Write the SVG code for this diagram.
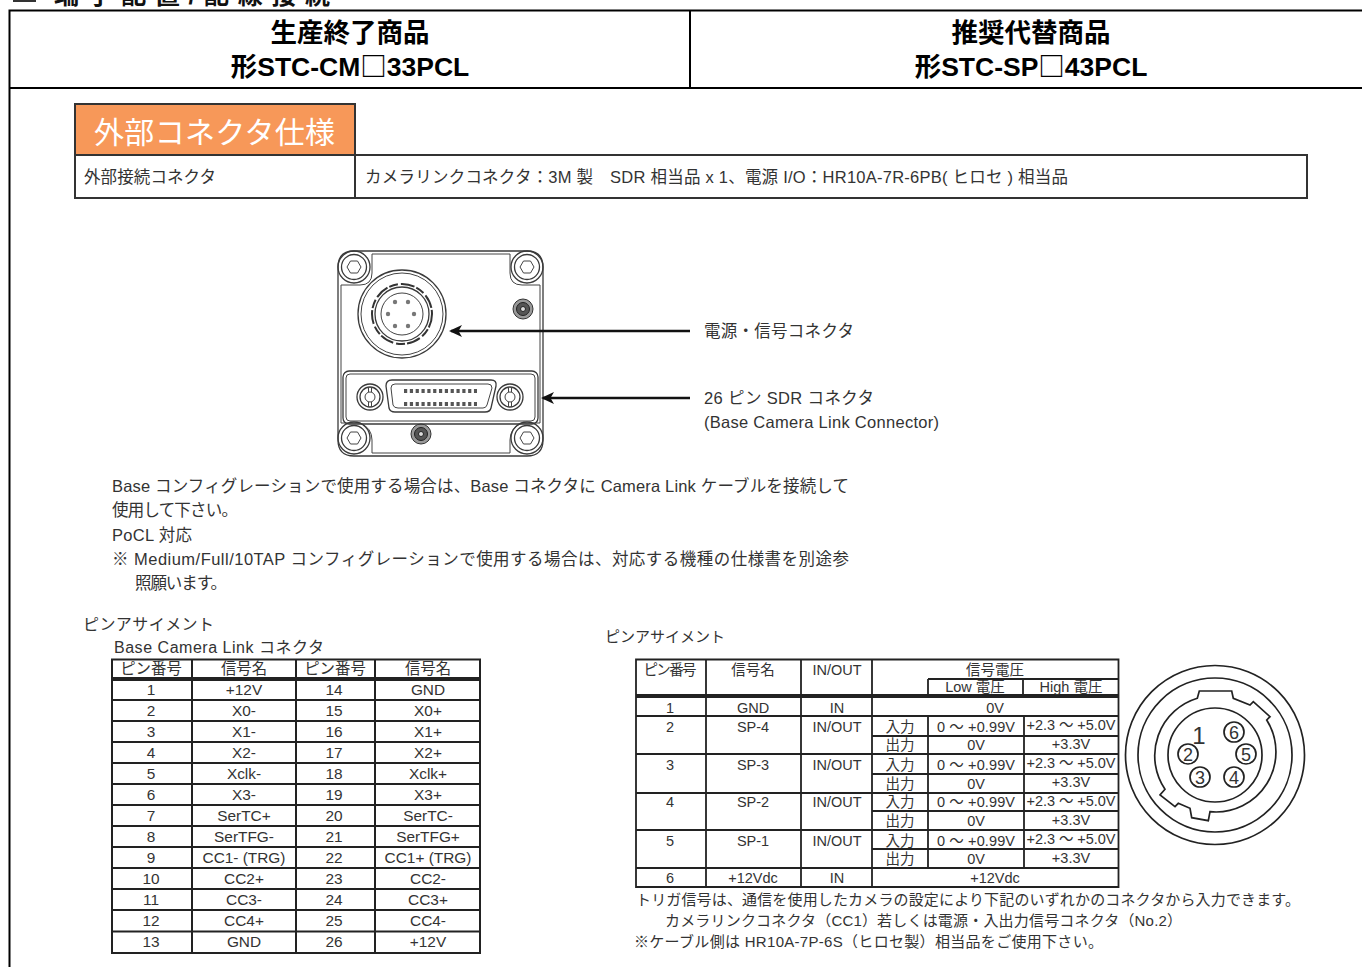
<svg xmlns="http://www.w3.org/2000/svg" width="1362" height="967" viewBox="0 0 1362 967">
<style>
text{font-family:"Liberation Sans","Noto Sans CJK JP",sans-serif;fill:#333}
.h{font-weight:700;font-size:26.500px;fill:#000;text-anchor:middle}
.sq{font-family:"Noto Sans CJK JP",sans-serif;font-weight:700}
.b{font-size:16.5px}
.t{font-size:15.400px;text-anchor:middle}
.r{font-size:14.500px;text-anchor:middle}
.n{font-size:15px}
.g{fill:none;stroke:#222;stroke-width:2}
.c{fill:none;stroke:#3a3a3a;stroke-width:1.300}
.k{fill:none;stroke:#222;stroke-width:1.700}
.f{fill:none;stroke:#444;stroke-width:1}
.p{fill:#777;stroke:none}
.ar{fill:none;stroke:#111;stroke-width:2.600}
</style>
<defs>
<marker id="ah" markerUnits="userSpaceOnUse" markerWidth="15" markerHeight="14" refX="12" refY="7" orient="auto">
<path d="M14 7L1 1L4.500 7L1 13Z" fill="#111"/>
</marker>
<g id="screw"><circle r="16" class="c"/><circle r="12.500" class="c"/><path d="M-7 0L-3.500-6H3.500L7 0L3.500 6H-3.500Z" class="f"/></g>
<g id="sm"><circle r="10" fill="#999" stroke="#333"/><circle r="6.500" fill="#555" stroke="#222"/><circle r="2.500" fill="#ddd" stroke="#222"/></g>
<g id="jack"><circle r="13" class="c"/><circle r="10" class="c"/><circle r="5" class="f"/><path d="M-1.500-10V-5M1.500-10V-5M-1.500 5V10M1.500 5V10" class="f"/></g>
</defs>
<rect width="1362" height="967" fill="#fff"/>

<g id="page-heading">
<rect x="13" y="0" width="23" height="2" fill="#333"/>
<text x="54" y="4" font-size="25" font-weight="700" style="fill:#111" textLength="276">端子配置/配線接続</text>
</g>

<g id="header-table">
<path d="M1362 10.500H9.500V967M9.500 88H1362M690 10.500V88" fill="none" stroke="#000" stroke-width="2"/>
<text x="350" y="42" class="h">生産終了商品</text>
<text x="350" y="76" class="h">形STC-CM<tspan class="sq">□</tspan>33PCL</text>
<text x="1031" y="42" class="h">推奨代替商品</text>
<text x="1031" y="76" class="h">形STC-SP<tspan class="sq">□</tspan>43PCL</text>
</g>

<g id="spec-table">
<rect x="75" y="104" width="280" height="51" fill="#f79859" stroke="#333" stroke-width="2"/>
<rect x="75" y="155" width="1232" height="43" fill="#fff" stroke="#333" stroke-width="2"/>
<path d="M355 155V198" stroke="#333" stroke-width="2"/>
<text x="94" y="142.500" font-size="30" style="fill:#fff" textLength="241">外部コネクタ仕様</text>
<text x="84" y="183" class="b" textLength="132">外部接続コネクタ</text>
<text x="365" y="183" class="b" textLength="703">カメラリンクコネクタ：3M 製　SDR 相当品 x 1、電源 I/O：HR10A-7R-6PB( ヒロセ ) 相当品</text>
</g>

<g id="camera">
<path d="M354 251H527Q543 251 543 267V440Q543 456 527 456H354Q338 456 338 440V267Q338 251 354 251Z" class="c"/>
<path d="M341 285V423M540 285V423M372 254H510M372 453H510" class="f"/>
<path d="M341 285H360Q372 285 372 273V254M540 285H522Q510 285 510 273V254M341 423H360Q372 428 372 440V453M540 423H522Q510 428 510 440V453" class="f"/>
<use href="#screw" x="354" y="267"/><use href="#screw" x="527" y="267"/><use href="#screw" x="354" y="438"/><use href="#screw" x="527" y="438"/>
<use href="#sm" x="523" y="309"/><use href="#sm" x="421" y="434"/>
<circle cx="402" cy="314" r="44" class="c"/><circle cx="402" cy="314" r="41" class="f"/>
<circle cx="402" cy="314" r="30" fill="none" stroke="#333" stroke-width="2" stroke-dasharray="14 2 9 3"/><circle cx="402" cy="314" r="27" class="c"/><circle cx="402" cy="314" r="21" class="f"/>
<g class="p"><circle cx="395" cy="302" r="2.200"/><circle cx="408" cy="302" r="2.200"/><circle cx="388" cy="314" r="2.200"/><circle cx="414" cy="314" r="2.200"/><circle cx="395" cy="326" r="2.200"/><circle cx="408" cy="326" r="2.200"/></g>
<rect x="343" y="371" width="195" height="53" rx="6" class="c"/><rect x="346" y="374" width="189" height="47" rx="4" class="f"/>
<use href="#jack" x="370" y="397"/><use href="#jack" x="510" y="397"/>
<path d="M392 380H491Q497 380 496 386L491 408Q490 412 485 412H395Q390 412 389 408L386 386Q386 380 392 380Z" class="c"/>
<path d="M395 384H488Q492 384 492 388L487 405Q486 408 483 408H398Q394 408 393 405L391 388Q391 384 395 384Z" class="f"/>
<path d="M404 391H477M404 404H477" fill="none" stroke="#555" stroke-width="4" stroke-dasharray="3.200 2.630"/>
</g>

<g id="connectors">
<line x1="690" y1="331" x2="451" y2="331" class="ar" marker-end="url(#ah)"/>
<line x1="690" y1="398" x2="543" y2="398" class="ar" marker-end="url(#ah)"/>
</g>

<g id="camera-labels">
<text x="704" y="337" class="b" textLength="150">電源・信号コネクタ</text>
<text x="704" y="404" class="b" textLength="170">26 ピン SDR コネクタ</text>
<text x="704" y="428" class="b" textLength="235">(Base Camera Link Connector)</text>
</g>

<g id="notes">
<text x="112" y="492" class="b" textLength="737">Base コンフィグレーションで使用する場合は、Base コネクタに Camera Link ケーブルを接続して</text>
<text x="112" y="516" class="b" textLength="126">使用して下さい。</text>
<text x="112" y="541" class="b" textLength="80">PoCL 対応</text>
<text x="112" y="565" class="b" textLength="737">※ Medium/Full/10TAP コンフィグレーションで使用する場合は、対応する機種の仕様書を別途参</text>
<text x="135" y="589" class="b" textLength="92">照願います。</text>
</g>

<g id="base-pin-table">
<text x="83" y="630" font-size="16" textLength="131">ピンアサイメント</text>
<text x="114" y="653" font-size="16" textLength="210">Base Camera Link コネクタ</text>
<path d="M112 659.500H480V953H112ZM192 659.500V953M296 659.500V953M375 659.500V953M112 700H480M112 721H480M112 742H480M112 763H480M112 784H480M112 805H480M112 826H480M112 847H480M112 868H480M112 889H480M112 910H480M112 931.500H480" class="g"/>
<rect x="112" y="677" width="368" height="4" fill="#222"/>
<g class="t">
<text x="151" y="674">ピン番号</text><text x="244" y="674">信号名</text><text x="335" y="674">ピン番号</text><text x="428" y="674">信号名</text>
<text x="151" y="695">1</text><text x="244" y="695">+12V</text><text x="334" y="695">14</text><text x="428" y="695">GND</text>
<text x="151" y="716">2</text><text x="244" y="716">X0-</text><text x="334" y="716">15</text><text x="428" y="716">X0+</text>
<text x="151" y="737">3</text><text x="244" y="737">X1-</text><text x="334" y="737">16</text><text x="428" y="737">X1+</text>
<text x="151" y="758">4</text><text x="244" y="758">X2-</text><text x="334" y="758">17</text><text x="428" y="758">X2+</text>
<text x="151" y="779">5</text><text x="244" y="779">Xclk-</text><text x="334" y="779">18</text><text x="428" y="779">Xclk+</text>
<text x="151" y="800">6</text><text x="244" y="800">X3-</text><text x="334" y="800">19</text><text x="428" y="800">X3+</text>
<text x="151" y="821">7</text><text x="244" y="821">SerTC+</text><text x="334" y="821">20</text><text x="428" y="821">SerTC-</text>
<text x="151" y="842">8</text><text x="244" y="842">SerTFG-</text><text x="334" y="842">21</text><text x="428" y="842">SerTFG+</text>
<text x="151" y="863">9</text><text x="244" y="863">CC1- (TRG)</text><text x="334" y="863">22</text><text x="428" y="863">CC1+ (TRG)</text>
<text x="151" y="884">10</text><text x="244" y="884">CC2+</text><text x="334" y="884">23</text><text x="428" y="884">CC2-</text>
<text x="151" y="905">11</text><text x="244" y="905">CC3-</text><text x="334" y="905">24</text><text x="428" y="905">CC3+</text>
<text x="151" y="926">12</text><text x="244" y="926">CC4+</text><text x="334" y="926">25</text><text x="428" y="926">CC4-</text>
<text x="151" y="947">13</text><text x="244" y="947">GND</text><text x="334" y="947">26</text><text x="428" y="947">+12V</text>
</g>
</g>

<g id="power-pin-table">
<text x="605" y="642" font-size="15" textLength="120">ピンアサイメント</text>
<path d="M636 659.500H1118.500V887H636ZM706 659.500V887M801 659.500V887M872 659.500V887M928 679V694M1023 679V694M928 679H1118.500M636 716H1118.500M636 754H1118.500M636 793H1118.500M636 830H1118.500M636 868H1118.500M872 736H1118.500M872 774H1118.500M872 811H1118.500M872 849H1118.500M928 716V754M928 754V793M928 793V830M928 830V868M1024 716V868" class="g" style="stroke-width:1.800"/>
<rect x="636" y="694" width="482.500" height="4" fill="#222"/>
<g class="r">
<text x="670" y="675" textLength="53">ピン番号</text><text x="753" y="675">信号名</text><text x="837" y="675">IN/OUT</text><text x="995" y="675">信号電圧</text>
<text x="975" y="692">Low 電圧</text><text x="1071" y="692">High 電圧</text>
<text x="670" y="713">1</text><text x="753" y="713">GND</text><text x="837" y="713">IN</text><text x="995" y="713">0V</text>
<text x="670" y="732">2</text><text x="753" y="732">SP-4</text><text x="837" y="732">IN/OUT</text>
<text x="900" y="732">入力</text><text x="976" y="732" textLength="78">0 ～ +0.99V</text><text x="1071" y="730" textLength="89">+2.3 ～ +5.0V</text>
<text x="900" y="750">出力</text><text x="976" y="750">0V</text><text x="1071" y="749">+3.3V</text>
<text x="670" y="770">3</text><text x="753" y="770">SP-3</text><text x="837" y="770">IN/OUT</text>
<text x="900" y="770">入力</text><text x="976" y="770" textLength="78">0 ～ +0.99V</text><text x="1071" y="768" textLength="89">+2.3 ～ +5.0V</text>
<text x="900" y="789">出力</text><text x="976" y="789">0V</text><text x="1071" y="787">+3.3V</text>
<text x="670" y="807">4</text><text x="753" y="807">SP-2</text><text x="837" y="807">IN/OUT</text>
<text x="900" y="807">入力</text><text x="976" y="807" textLength="78">0 ～ +0.99V</text><text x="1071" y="806" textLength="89">+2.3 ～ +5.0V</text>
<text x="900" y="826">出力</text><text x="976" y="826">0V</text><text x="1071" y="825">+3.3V</text>
<text x="670" y="846">5</text><text x="753" y="846">SP-1</text><text x="837" y="846">IN/OUT</text>
<text x="900" y="846">入力</text><text x="976" y="846" textLength="78">0 ～ +0.99V</text><text x="1071" y="844" textLength="89">+2.3 ～ +5.0V</text>
<text x="900" y="864">出力</text><text x="976" y="864">0V</text><text x="1071" y="863">+3.3V</text>
<text x="670" y="883">6</text><text x="753" y="883">+12Vdc</text><text x="837" y="883">IN</text><text x="995" y="883">+12Vdc</text>
</g>
<text x="636" y="905" class="n" textLength="664">トリガ信号は、通信を使用したカメラの設定により下記のいずれかのコネクタから入力できます。</text>
<text x="665" y="926" class="n" textLength="517">カメラリンクコネクタ（CC1）若しくは電源・入出力信号コネクタ（No.2）</text>
<text x="634" y="947" class="n" textLength="469">※ケーブル側は HR10A-7P-6S（ヒロセ製）相当品をご使用下さい。</text>
</g>

<g id="power-connector">
<circle cx="1215" cy="755" r="89.500" class="k"/><circle cx="1215" cy="755" r="77" class="k"/><circle cx="1215" cy="755" r="47" class="k"/>
<path d="M1197.300 698.300L1199.300 691H1231.700L1233.300 698.300L1250 705L1253.300 701.700L1270 716.700L1266.700 720A60 60 0 0 1 1210 811.700L1208.300 820.700L1191.700 817.700L1190 808.300L1178.300 803.300L1175 806.700L1160 795L1165 789.300A60 60 0 0 1 1197.300 698.300Z" class="k"/>
<g class="k"><circle cx="1234" cy="732" r="10"/><circle cx="1246" cy="754" r="10"/><circle cx="1234" cy="777" r="10"/><circle cx="1200" cy="777" r="10"/><circle cx="1188" cy="754" r="10"/></g>
<g font-size="18" text-anchor="middle">
<text x="1199" y="744" font-size="24">1</text>
<text x="1188" y="760.500">2</text><text x="1200" y="783.500">3</text><text x="1234" y="783.500">4</text><text x="1246" y="760.500">5</text><text x="1234" y="738.500">6</text>
</g>
</g>
</svg>
